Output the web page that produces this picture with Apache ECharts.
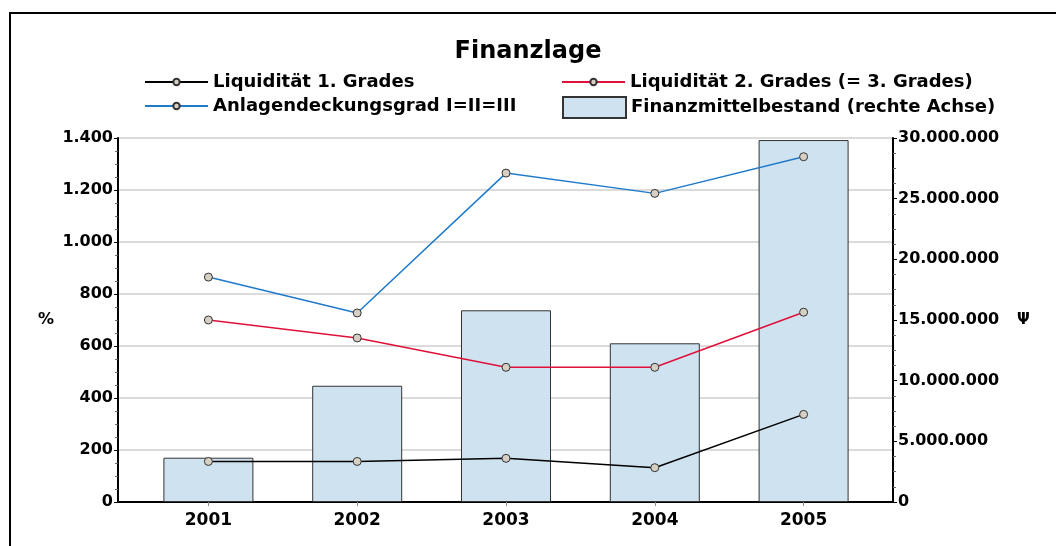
<!DOCTYPE html>
<html>
<head>
<meta charset="utf-8">
<script src="https://cdn.jsdelivr.net/npm/echarts@6/dist/echarts.min.js"></script>
<style>
  html, body { margin: 0; padding: 0; background: #fff; }
  #chart { width: 1056px; height: 546px; }
</style>
</head>
<body>
<div id="chart"></div>
<script>
// years on the x axis
const years = ['2001', '2002', '2003', '2004', '2005'];

// left axis, percent
const liquiditaet1 = [156, 156, 168, 132, 337];
const liquiditaet2 = [700, 631, 518, 518, 730];
const anlagendeckung = [865, 727, 1265, 1187, 1328];

// right axis, money
const finanzmittel = [3650000, 9580000, 15800000, 13080000, 29830000];

const font = 'DejaVu Sans';

// 1.400 / 30.000.000 style
function fmt(v) {
    return String(v).replace(/\B(?=(\d{3})+(?!\d))/g, '.');
}

let chart = echarts.init(document.getElementById('chart'));

let lineSeries = (name, data, color) => ({
    name: name,
    type: 'line',
    xAxisIndex: 1,
    yAxisIndex: 2,
    data: data,
    symbol: 'circle',
    symbolSize: 8,
    z: 5,
    lineStyle: { color: color, width: 1.5 },
    itemStyle: { color: '#d6d0c4', borderColor: '#333', borderWidth: 1 }
});

let legendStyle = { fontFamily: font, fontWeight: 'bold', fontSize: 18, color: '#000' };

let option = {
    animation: false,
    backgroundColor: '#fff',
    title: {
        text: 'Finanzlage',
        left: 'center',
        top: 35,
        textStyle: { fontFamily: font, fontWeight: 'bold', fontSize: 24, color: '#000' }
    },
    legend: [
        { data: ['Liquidität 1. Grades'], left: 139, top: 68, itemWidth: 63, itemHeight: 8, textStyle: legendStyle },
        { data: ['Liquidität 2. Grades (= 3. Grades)'], left: 556, top: 68, itemWidth: 63, itemHeight: 8, textStyle: legendStyle },
        { data: ['Anlagendeckungsgrad I=II=III'], left: 139, top: 92, itemWidth: 63, itemHeight: 8, textStyle: legendStyle },
        { data: ['Finanzmittelbestand (rechte Achse)'], left: 557, top: 91, itemWidth: 63, itemHeight: 21, icon: 'rect', textStyle: legendStyle }
    ],
    graphic: [{
        type: 'rect',
        shape: { x: 10, y: 13, width: 1100, height: 600 },
        style: { fill: null, stroke: '#000', lineWidth: 2 },
        silent: true
    }],
    grid: [
        // frame with axes and gridlines
        { left: 118, right: 163, top: 138, bottom: 44 },
        // inner grid holding the categories, a little narrower
        { left: 134, right: 178, top: 138, bottom: 44 }
    ],
    xAxis: [
        {
            type: 'value', gridIndex: 0, min: 0, max: 1,
            axisLine: { show: true, lineStyle: { color: '#000', width: 2 } },
            axisTick: { show: false }, axisLabel: { show: false }, splitLine: { show: false }
        },
        {
            type: 'category', gridIndex: 1, data: years,
            axisLine: { show: false },
            axisTick: { show: true, alignWithLabel: true, length: 4, lineStyle: { color: '#888' } },
            axisLabel: { margin: 10, fontFamily: font, fontWeight: 'bold', fontSize: 17, color: '#000' }
        }
    ],
    yAxis: [
        {
            type: 'value', gridIndex: 0, position: 'left',
            min: 0, max: 1400, interval: 200,
            name: '%', nameLocation: 'middle', nameRotate: 0, nameGap: 64,
            nameTextStyle: { fontFamily: font, fontWeight: 'bold', fontSize: 16, color: '#000' },
            axisLine: { show: true, lineStyle: { color: '#000', width: 2 } },
            axisTick: { show: true, length: 4, lineStyle: { color: '#000' } },
            minorTick: { show: true, splitNumber: 4, length: 3, lineStyle: { color: '#666' } },
            axisLabel: { margin: 5, formatter: fmt, fontFamily: font, fontWeight: 'bold', fontSize: 16, color: '#000' },
            splitLine: { show: true, lineStyle: { color: '#cfcfcf', width: 1.5 } }
        },
        {
            type: 'value', gridIndex: 0, position: 'right',
            min: 0, max: 30000000, interval: 5000000,
            name: 'Ψ', nameLocation: 'middle', nameRotate: 0, nameGap: 124,
            nameTextStyle: { fontFamily: font, fontWeight: 'bold', fontSize: 15, color: '#000' },
            axisLine: { show: true, lineStyle: { color: '#000', width: 2 } },
            axisTick: { show: true, length: 4, lineStyle: { color: '#000' } },
            minorTick: { show: true, splitNumber: 4, length: 3, lineStyle: { color: '#666' } },
            axisLabel: { margin: 5, formatter: fmt, fontFamily: font, fontWeight: 'bold', fontSize: 16, color: '#000' },
            splitLine: { show: false }
        },
        { type: 'value', gridIndex: 1, min: 0, max: 1400, show: false },
        { type: 'value', gridIndex: 1, min: 0, max: 30000000, show: false }
    ],
    series: [
        {
            name: 'Finanzmittelbestand (rechte Achse)',
            type: 'bar',
            xAxisIndex: 1,
            yAxisIndex: 3,
            data: finanzmittel,
            barWidth: 90,
            z: 1,
            itemStyle: { color: '#cfe2f0', borderColor: '#333', borderWidth: 1 }
        },
        lineSeries('Liquidität 1. Grades', liquiditaet1, '#000000'),
        lineSeries('Liquidität 2. Grades (= 3. Grades)', liquiditaet2, '#e0103a'),
        lineSeries('Anlagendeckungsgrad I=II=III', anlagendeckung, '#1f7acb')
    ]
};

chart.setOption(option);
</script>
</body>
</html>
